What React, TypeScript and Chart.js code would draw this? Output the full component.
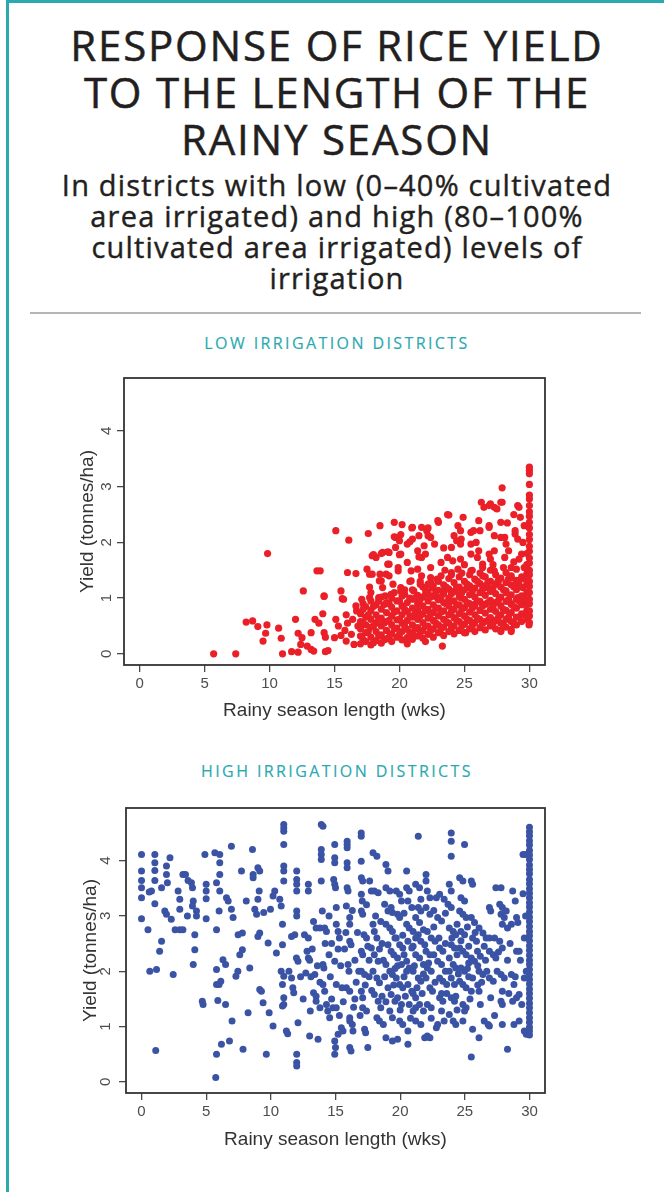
import React, { useEffect, useRef } from "react";
import { Chart, registerables } from "chart.js";

Chart.register(...registerables);

const titleLines = ["RESPONSE OF RICE YIELD", "TO THE LENGTH OF THE", "RAINY SEASON"];
const subtitleLines = [
  "In districts with low (0–40% cultivated",
  "area irrigated) and high (80–100%",
  "cultivated area irrigated) levels of",
  "irrigation",
];
const lowPanelTitle = "LOW IRRIGATION DISTRICTS";
const highPanelTitle = "HIGH IRRIGATION DISTRICTS";
const xAxisTitle = "Rainy season length (wks)";
const yAxisTitle = "Yield (tonnes/ha)";
const xTicks = [0, 5, 10, 15, 20, 25, 30];
const yTicks = [0, 1, 2, 3, 4];

// Low irrigation districts: [weeks, yield]
const lowSparse: number[][] = [
  [5.7, 0.0], [7.4, 0.0], [8.2, 0.57], [8.7, 0.59], [9.1, 0.49], [9.8, 0.52], [9.7, 0.37], [9.5, 0.23],
  [9.85, 1.8], [10.7, 0.46], [10.9, 0.28], [11.0, 0.0], [11.7, 0.04], [12.2, 0.03], [12.0, 0.62],
  [12.2, 0.37], [12.5, 0.29], [12.4, 0.17], [12.9, 0.14], [13.2, 0.08], [13.4, 0.05], [13.2, 0.38],
  [13.5, 0.62], [13.8, 0.55], [14.2, 0.38], [14.3, 0.3], [14.3, 0.04], [14.1, 0.72], [12.6, 1.13],
  [13.65, 1.49], [13.9, 1.49], [14.2, 1.04], [15.1, 0.62], [15.0, 0.29], [15.9, 0.7], [15.9, 0.23],
  [16.5, 0.17], [16.7, 0.77], [16.65, 0.86], [15.5, 0.33], [15.8, 0.42], [15.1, 2.21], [16.1, 2.04],
  [15.5, 1.13], [15.6, 0.99], [16.0, 1.46], [16.65, 1.44], [14.5, 0.06], [15.3, 0.5], [16.0, 0.55],
  [16.3, 0.35], [16.8, 0.5], [16.4, 0.62], [17.2, 0.9], [20.6, 0.18], [22.0, 0.22], [23.3, 0.14],
  [25.1, 0.38], [27.8, 0.4], [28.6, 0.4], [29.97, 0.52],
];
const lowUpper: number[][] = [
  [17.6, 2.16], [18.5, 2.3], [19.6, 2.36], [20.2, 2.32], [21.0, 2.27], [21.7, 2.27], [22.1, 2.21],
  [23.0, 2.36], [23.8, 2.49], [24.5, 2.3], [24.7, 2.21], [25.5, 2.18], [26.3, 2.72], [26.5, 2.63],
  [27.0, 2.69], [27.3, 2.63], [27.9, 2.98], [27.9, 2.72], [29.1, 2.66], [30, 3.35], [30, 3.29],
  [30, 3.23], [30, 3.04], [20.95, 2.26], [19.6, 2.1], [20.1, 2.14], [22.2, 2.26], [22.2, 2.12],
  [21.5, 2.12], [20.8, 2.01], [23.7, 2.5], [22.95, 2.39], [26.9, 2.66], [27.8, 2.72], [27.5, 2.6],
  [29.2, 2.63], [26.1, 2.39], [26.9, 2.3], [27.8, 2.36], [24.2, 2.12], [24.75, 2.06], [24.0, 1.91],
  [25.7, 2.21], [25.5, 1.97], [26.1, 1.85], [26.9, 1.79], [28.1, 2.09], [28.9, 2.15], [29.4, 1.79],
];
const lowMiddle: number[][] = [
  [17.5, 1.52], [17.9, 1.76], [18.2, 1.73], [18.7, 1.82], [19.2, 1.82], [19.7, 2.09], [20.0, 2.03],
  [19.7, 1.91], [20.1, 1.79], [20.6, 1.97], [21.0, 2.06], [21.4, 1.85], [21.7, 1.73], [21.9, 1.94],
  [22.4, 2.09], [22.7, 1.97], [23.2, 1.64], [23.7, 1.73], [24.1, 1.67], [24.7, 1.7], [24.4, 2.03],
  [24.7, 1.97], [25.5, 1.79], [26.0, 1.73], [26.4, 1.61], [26.2, 2.21], [26.9, 2.27], [27.3, 2.12],
  [27.8, 2.09], [28.2, 1.97], [27.3, 1.85], [28.1, 1.73], [28.6, 1.55], [28.9, 2.21], [29.1, 2.06],
  [25.5, 1.49], [26.4, 1.4], [27.3, 1.49], [27.6, 1.31], [28.6, 1.37], [29.1, 1.25], [24.0, 1.46],
  [24.5, 1.52], [20.9, 1.49], [21.7, 1.4], [22.2, 1.25], [19.2, 1.61], [18.97, 1.43], [17.9, 1.43],
  [18.6, 1.31], [22.9, 1.34], [18.0, 1.78], [18.6, 1.8], [19.1, 1.83], [20.0, 1.78], [21.5, 1.74],
  [22.0, 1.79], [19.1, 1.61], [19.9, 1.55], [20.6, 1.64], [17.7, 1.43], [18.5, 1.43], [19.2, 1.4],
  [19.9, 1.49], [21.4, 1.52], [22.4, 1.55], [17.7, 1.2], [18.45, 1.31], [17.7, 1.01], [18.9, 1.04],
  [19.5, 1.25], [20.1, 1.13], [20.9, 1.31], [21.6, 1.25], [22.4, 1.37], [23.5, 1.5], [25.0, 1.6],
  [27.0, 1.7], [28.4, 1.85], [29.5, 2.0], [29.6, 2.3], [29.3, 2.45], [28.8, 2.5], [23.4, 1.9],
  [24.9, 2.45], [25.9, 2.0], [28.3, 2.35], [14.2, 1.03], [15.7, 0.98], [17.1, 0.98], [17.8, 1.1],
  [18.4, 1.01], [18.7, 1.19], [19.35, 1.07], [20.1, 1.19], [20.4, 1.07], [21.1, 1.13], [21.5, 0.95],
  [22.0, 1.07], [22.5, 1.19], [22.9, 1.01], [23.4, 1.13], [23.8, 0.95], [24.3, 1.13], [24.7, 1.01],
  [25.25, 1.19], [25.8, 0.89], [26.3, 1.1], [26.8, 1.19], [27.2, 0.89], [27.7, 1.01], [28.2, 1.13],
  [28.6, 0.89], [29.1, 1.01], [29.5, 1.19], [29.6, 0.89],
];
// dense band, one row per column: [weeks, yield, yield, ...]
const lowDenseColumns: number[][] = [
  [17.0, 0.18, 0.32, 0.45, 0.58, 0.72],
  [17.4, 0.22, 0.38, 0.52, 0.66, 0.85],
  [17.8, 0.16, 0.3, 0.48, 0.62, 0.78, 0.95],
  [18.2, 0.24, 0.4, 0.55, 0.7, 0.88],
  [18.6, 0.19, 0.34, 0.5, 0.64, 0.8, 1.02],
  [19.0, 0.27, 0.42, 0.58, 0.74, 0.92],
  [19.4, 0.22, 0.36, 0.52, 0.68, 0.84, 1.0],
  [19.8, 0.3, 0.46, 0.61, 0.77, 0.95],
  [20.2, 0.25, 0.4, 0.55, 0.7, 0.86, 1.04],
  [20.6, 0.29, 0.44, 0.6, 0.76, 0.92],
  [21.0, 0.26, 0.38, 0.52, 0.66, 0.82, 0.98, 1.15],
  [21.4, 0.32, 0.47, 0.62, 0.78, 0.9, 1.05],
  [21.8, 0.28, 0.42, 0.56, 0.72, 0.86, 1.02, 1.2],
  [22.2, 0.35, 0.5, 0.64, 0.8, 0.95, 1.1],
  [22.6, 0.3, 0.45, 0.6, 0.74, 0.88, 1.04, 1.22],
  [23.0, 0.38, 0.52, 0.68, 0.82, 0.97, 1.14, 1.3],
  [23.4, 0.33, 0.48, 0.62, 0.77, 0.92, 1.08, 1.24],
  [23.8, 0.4, 0.55, 0.7, 0.86, 1.0, 1.16, 1.35],
  [24.2, 0.36, 0.5, 0.65, 0.8, 0.95, 1.12, 1.28],
  [24.6, 0.42, 0.58, 0.72, 0.88, 1.04, 1.2, 1.38],
  [25.0, 0.38, 0.53, 0.68, 0.83, 0.98, 1.15, 1.3],
  [25.4, 0.45, 0.6, 0.75, 0.9, 1.06, 1.22, 1.42],
  [25.8, 0.4, 0.56, 0.7, 0.86, 1.02, 1.18, 1.34],
  [26.2, 0.47, 0.62, 0.78, 0.94, 1.1, 1.26, 1.45],
  [26.6, 0.43, 0.58, 0.73, 0.89, 1.05, 1.22, 1.38],
  [27.0, 0.5, 0.65, 0.8, 0.96, 1.12, 1.3, 1.5],
  [27.4, 0.45, 0.6, 0.76, 0.92, 1.08, 1.25, 1.42],
  [27.8, 0.42, 0.55, 0.7, 0.86, 1.02, 1.2, 1.36],
  [28.2, 0.48, 0.62, 0.78, 0.94, 1.1, 1.28, 1.46],
  [28.6, 0.44, 0.58, 0.74, 0.9, 1.06, 1.24, 1.4],
  [29.0, 0.52, 0.66, 0.82, 0.98, 1.15, 1.32, 1.52],
  [29.4, 0.58, 0.72, 0.88, 1.04, 1.2, 1.38],
  [29.8, 0.62, 0.78, 0.94, 1.1, 1.26, 1.44, 1.6, 1.8],
  [30.0, 0.56, 0.68, 0.77, 0.9, 0.98, 1.1, 1.21, 1.3, 1.42, 1.5, 1.63, 1.72, 1.84, 1.93, 2.05, 2.14, 2.26, 2.36, 2.47, 2.55, 2.66, 2.78, 2.85],
];
const lowDenseInfill: number[][] = [
  [17.2, 0.26, 0.55, 0.8],
  [17.6, 0.4, 0.7],
  [18.0, 0.2, 0.5, 0.85],
  [18.4, 0.32, 0.62, 0.95],
  [18.8, 0.25, 0.55, 0.88],
  [19.2, 0.3, 0.6, 0.9],
  [19.6, 0.45, 0.75, 1.1],
  [20.0, 0.35, 0.62, 0.95],
  [20.4, 0.5, 0.8, 1.15],
  [20.8, 0.36, 0.68, 1.0, 1.3],
  [21.2, 0.45, 0.72, 1.0],
  [21.6, 0.38, 0.68, 0.98, 1.3],
  [22.0, 0.5, 0.78, 1.15],
  [22.4, 0.42, 0.72, 1.02, 1.28],
  [22.8, 0.55, 0.82, 1.12],
  [23.2, 0.45, 0.75, 1.02, 1.4],
  [23.6, 0.58, 0.9, 1.2],
  [24.0, 0.46, 0.76, 1.08, 1.42],
  [24.4, 0.6, 0.88, 1.2],
  [24.8, 0.5, 0.8, 1.1, 1.45],
  [25.2, 0.62, 0.92, 1.25],
  [25.6, 0.5, 0.82, 1.12, 1.5],
  [26.0, 0.64, 0.95, 1.3],
  [26.4, 0.55, 0.86, 1.16, 1.55],
  [26.8, 0.6, 0.92, 1.28],
  [27.2, 0.55, 0.84, 1.18, 1.6],
  [27.6, 0.65, 0.95, 1.3],
  [28.0, 0.52, 0.8, 1.15, 1.55],
  [28.4, 0.66, 0.98, 1.35],
  [28.8, 0.55, 0.85, 1.2, 1.65],
  [29.2, 0.66, 0.95, 1.3, 1.7],
  [29.6, 0.7, 1.0, 1.35, 1.55],
];

// High irrigation districts: [weeks, yield]
const highLeft: number[][] = [
  [0, 4.11], [0, 3.81], [0, 3.64], [0, 3.51], [0, 3.33], [0, 2.95], [0.5, 2.75], [1.03, 4.11], [1.03, 3.96],
  [1.03, 3.82], [1.03, 3.64], [0.77, 3.45], [0.6, 3.43], [1.03, 3.22], [1.55, 3.51], [0.64, 2.0], [1.16, 2.03],
  [1.1, 0.57], [1.55, 2.54], [1.4, 2.36], [1.93, 3.9], [1.93, 3.75], [2.0, 3.6], [2.2, 4.05], [1.8, 3.09],
  [1.93, 3.03], [2.3, 2.94], [2.45, 1.94], [2.6, 2.75], [2.96, 2.75], [3.2, 2.75], [2.83, 3.45], [2.96, 3.3],
  [3.2, 3.75], [3.4, 3.75], [2.96, 3.12], [3.6, 3.64], [3.86, 3.6], [3.55, 3.0], [3.94, 3.51], [4.0, 3.27],
  [3.94, 3.18], [4.12, 2.66], [4.12, 2.39], [4.0, 2.12], [4.25, 3.09], [4.25, 3.0], [4.9, 4.11], [5.0, 3.57],
  [5.0, 3.45], [5.0, 3.31], [5.0, 2.95], [4.76, 1.4], [4.7, 1.46], [5.8, 2.75], [5.67, 4.14], [6.05, 4.11],
  [6.05, 3.96], [6.05, 3.75], [5.8, 3.6], [6.05, 3.45], [6.0, 3.09], [5.8, 1.76], [6.0, 1.76], [6.13, 1.82],
  [5.8, 2.03], [5.9, 1.47], [5.8, 0.5], [5.74, 0.08], [6.18, 0.68], [6.3, 2.21], [6.5, 2.12], [6.5, 1.4],
  [6.57, 3.33], [6.7, 3.27], [6.8, 0.74], [6.95, 4.26], [6.95, 3.12], [7.08, 2.97], [7.0, 1.1], [7.3, 1.91],
  [7.45, 2.0], [7.6, 2.3], [7.8, 2.39], [7.73, 3.81], [7.85, 0.59], [7.47, 2.66], [7.8, 2.69], [8.1, 3.27],
  [8.37, 2.06], [8.24, 1.25], [8.58, 4.2], [8.63, 3.75], [8.63, 3.69], [8.76, 3.12], [8.9, 3.03], [9.0, 3.87],
  [9.14, 3.81], [9.1, 3.45], [9.0, 3.3], [9.0, 2.63], [9.14, 1.67], [9.27, 1.64], [9.14, 2.69], [9.45, 3.06],
  [9.4, 1.43], [9.65, 0.5], [9.79, 2.51], [9.87, 1.25], [9.97, 3.12],
];
const highMiddle: number[][] = [
  [10.17, 1.01], [10.17, 3.36], [10.3, 3.45], [10.43, 2.33], [10.69, 3.3], [10.8, 3.18], [11.0, 4.65],
  [11.0, 4.59], [11.0, 4.53], [11.0, 4.29], [11.0, 3.9], [11.0, 3.81], [11.0, 3.63], [10.9, 2.85], [10.9, 2.48],
  [10.8, 2.0], [11.0, 1.91], [10.9, 1.76], [11.0, 1.52], [11.0, 1.4], [10.9, 1.37], [11.2, 0.92], [11.3, 0.87],
  [11.4, 2.0], [11.6, 1.88], [11.7, 1.7], [11.77, 1.61], [11.6, 2.63], [12.0, 3.81], [12.0, 3.66], [12.0, 3.57],
  [12.0, 3.45], [12.0, 3.09], [12.0, 3.0], [12.1, 2.18], [11.98, 2.24], [11.85, 2.66], [12.1, 1.07], [12.0, 0.5],
  [12.0, 0.35], [12.0, 0.29], [12.6, 2.66], [12.9, 2.6], [12.8, 2.36], [12.9, 2.24], [12.7, 1.97], [12.9, 3.57],
  [12.9, 3.45], [13.0, 0.83], [13.05, 1.28], [13.3, 1.61], [13.5, 1.55], [13.65, 0.77], [13.5, 2.78],
  [13.8, 2.78], [13.9, 4.65], [14.03, 4.62], [13.9, 4.2], [13.9, 4.11], [13.9, 4.02], [13.9, 3.63], [13.98, 3.09],
  [14.16, 2.78], [14.3, 2.72], [14.03, 2.12], [14.1, 2.06], [14.03, 1.76], [14.16, 1.64], [14.3, 1.4],
  [14.4, 1.28], [14.55, 1.16], [14.8, 1.34], [13.8, 1.34], [13.5, 1.46], [13.4, 1.94], [14.94, 4.29],
  [14.94, 4.05], [14.94, 3.96], [14.86, 3.66], [14.94, 3.57], [15.0, 3.51], [15.06, 3.15], [15.06, 2.85],
  [15.2, 2.72], [15.3, 2.6], [14.94, 2.18], [15.06, 1.76], [15.06, 1.34], [14.94, 0.74], [15.0, 0.62],
  [14.94, 0.5], [15.2, 0.86], [15.45, 0.98], [15.58, 0.92], [15.9, 4.35], [15.9, 4.29], [15.9, 4.23],
  [15.9, 3.96], [15.9, 3.87], [15.9, 3.51], [15.97, 3.45], [15.84, 3.18], [16.1, 2.97], [16.1, 2.85],
  [16.1, 2.54], [16.2, 2.48], [15.97, 2.12], [16.04, 2.0], [15.84, 1.7], [16.1, 1.64], [16.1, 1.16], [16.1, 1.1],
  [16.3, 1.04], [16.1, 0.62], [16.2, 0.56], [16.35, 0.92], [16.99, 4.5], [16.99, 4.44], [16.99, 3.99],
  [17.0, 3.69], [17.1, 3.63], [17.0, 3.39], [17.07, 3.27], [17.0, 3.09], [17.1, 3.03], [17.2, 2.66], [17.4, 2.6],
  [17.0, 2.36], [17.1, 2.3], [17.0, 2.0], [17.25, 1.94], [17.0, 1.64], [17.1, 1.52], [17.1, 1.34], [17.4, 1.28],
  [17.25, 0.95], [17.33, 0.89], [17.5, 0.62], [17.9, 4.14], [18.2, 4.08], [17.77, 3.45], [18.0, 3.45],
  [18.3, 3.42], [17.64, 3.63], [17.9, 2.85], [18.0, 2.72], [18.2, 2.6], [17.77, 2.42], [18.0, 2.3], [18.3, 2.18],
  [17.9, 2.0], [18.2, 1.88], [18.4, 1.79], [18.0, 1.58], [18.3, 1.46], [18.5, 1.34], [18.2, 1.16], [18.4, 1.1],
  [18.7, 1.04], [18.9, 3.93], [19.06, 3.81], [18.9, 3.51], [19.2, 3.45], [18.8, 3.21], [19.06, 3.09],
  [18.9, 2.85], [19.2, 2.78], [19.4, 2.72], [19.06, 2.48], [19.3, 2.36], [18.9, 2.12], [19.2, 2.0], [19.4, 1.94],
  [19.06, 1.7], [19.3, 1.58], [19.6, 1.46], [19.2, 1.28], [19.4, 1.16], [18.9, 0.8], [19.4, 0.74], [19.8, 0.77],
  [19.7, 3.45], [19.96, 3.39], [20.1, 3.27], [19.8, 3.03], [19.96, 2.97], [19.4, 3.06], [19.7, 2.6],
  [19.96, 2.48], [20.2, 2.42], [19.8, 2.24], [20.1, 2.12], [19.7, 1.88], [19.96, 1.76], [20.2, 1.7], [19.8, 1.52],
  [20.1, 1.4], [19.96, 1.1], [20.2, 1.04],
];
const highRight: number[][] = [
  [20.5, 3.81], [20.5, 3.51], [20.7, 3.45], [20.6, 3.27], [20.9, 3.15], [20.5, 2.85], [20.7, 2.78], [21.0, 2.72],
  [20.6, 2.54], [20.9, 2.42], [20.5, 2.18], [20.7, 2.06], [21.0, 2.0], [20.6, 1.76], [20.9, 1.64], [20.7, 1.4],
  [21.0, 1.28], [21.2, 1.34], [20.6, 0.92], [20.6, 0.68], [21.4, 4.44], [21.2, 3.57], [21.5, 3.51], [21.4, 3.15],
  [21.6, 3.09], [21.2, 2.97], [21.5, 2.88], [21.4, 2.66], [21.6, 2.54], [21.9, 2.48], [21.2, 2.3], [21.5, 2.24],
  [21.8, 2.12], [21.4, 1.88], [21.6, 1.82], [21.2, 1.52], [21.5, 1.4], [21.8, 1.28], [21.2, 1.1], [21.6, 1.04],
  [22.0, 3.75], [22.0, 3.63], [22.1, 3.45], [22.3, 3.33], [22.0, 3.15], [22.3, 3.03], [22.1, 2.72], [22.4, 2.6],
  [22.7, 2.54], [22.0, 2.36], [22.3, 2.3], [22.1, 2.06], [22.4, 2.0], [22.0, 1.88], [22.3, 1.7], [22.5, 1.64],
  [22.1, 1.4], [22.4, 1.34], [21.9, 0.8], [22.1, 0.83], [22.3, 0.8], [22.8, 0.98], [22.9, 1.04], [22.8, 3.33],
  [23.05, 3.39], [22.9, 2.97], [23.2, 2.91], [23.05, 2.42], [23.3, 2.36], [22.9, 2.18], [23.2, 2.12],
  [23.05, 1.88], [23.3, 1.82], [23.6, 1.76], [23.05, 1.52], [23.3, 1.46], [23.2, 1.28], [23.4, 1.1],
  [23.95, 4.5], [23.95, 4.35], [23.95, 4.08], [23.8, 3.57], [23.95, 3.45], [23.7, 3.21], [23.95, 3.15],
  [23.8, 2.78], [24.1, 2.72], [24.3, 2.66], [23.95, 2.48], [24.2, 2.42], [23.8, 2.24], [24.1, 2.12], [24.3, 2.06],
  [23.95, 1.88], [24.2, 1.76], [23.95, 1.52], [24.2, 1.46], [23.8, 1.22], [24.1, 1.1], [24.3, 1.04], [24.6, 3.69],
  [24.85, 3.63], [24.98, 4.29], [24.7, 3.33], [24.98, 3.27], [24.6, 3.09], [24.85, 3.03], [25.1, 2.97],
  [24.7, 2.72], [24.98, 2.66], [24.6, 2.42], [24.85, 2.36], [25.1, 2.3], [24.7, 2.06], [24.98, 2.0], [24.6, 1.82],
  [24.85, 1.76], [25.1, 1.7], [24.85, 1.4], [25.1, 1.34], [24.98, 1.28], [24.85, 1.1], [25.5, 3.63], [25.6, 3.57],
  [25.5, 2.97], [25.75, 2.88], [25.6, 2.6], [25.9, 2.54], [25.5, 2.24], [25.75, 2.18], [25.5, 1.64], [25.6, 1.88],
  [25.6, 0.95], [25.5, 0.45], [26.1, 2.78], [26.4, 2.69], [26.65, 2.6], [25.98, 2.36], [26.2, 2.27], [26.1, 2.0],
  [26.4, 1.94], [26.1, 1.64], [26.2, 1.4], [26.1, 0.8], [26.5, 1.1], [26.8, 1.04], [26.9, 1.01], [26.9, 3.15],
  [27.0, 3.09], [26.9, 2.36], [27.2, 2.3], [27.4, 2.24], [26.9, 1.88], [27.2, 1.82], [27.0, 1.52], [27.4, 3.51],
  [27.8, 3.51], [27.7, 3.21], [27.9, 3.15], [28.2, 3.09], [27.8, 3.03], [28.05, 2.97], [27.7, 2.54], [27.9, 2.42],
  [27.8, 1.94], [28.05, 1.88], [27.9, 1.64], [27.8, 1.46], [27.9, 1.4], [27.9, 1.04], [28.3, 0.59], [28.3, 2.78],
  [28.6, 2.85], [28.6, 1.94], [28.8, 1.76], [28.7, 3.45], [28.9, 3.27], [29.0, 2.97], [29.1, 2.88], [29.0, 2.36],
  [29.2, 2.36], [28.7, 1.46], [29.0, 1.52], [29.2, 1.58], [28.8, 1.04], [29.2, 1.1], [29.5, 4.11], [29.7, 4.11],
  [29.6, 1.88], [29.75, 2.0], [29.6, 0.92], [29.75, 0.86],
];
const highFill: number[][] = [
  [13.0, 2.2], [13.2, 2.4], [13.6, 2.1], [13.8, 1.8], [14.5, 2.3], [14.6, 1.9], [14.7, 2.5], [15.4, 2.1],
  [15.5, 1.7], [15.7, 2.4], [15.6, 1.45], [16.5, 2.2], [16.6, 1.8], [16.7, 2.7], [16.5, 1.5], [17.6, 2.2],
  [17.6, 1.9], [17.8, 1.65], [18.6, 2.5], [18.7, 2.2], [18.6, 1.55], [18.5, 2.9], [19.5, 2.3], [19.6, 2.05],
  [19.5, 1.75], [20.3, 2.3], [20.3, 1.9], [20.4, 1.55], [20.2, 2.65], [21.0, 2.45], [21.0, 1.6], [21.1, 2.1],
  [21.8, 1.95], [21.7, 1.6], [21.8, 2.75], [22.6, 2.3], [22.7, 1.8], [22.6, 2.8], [23.5, 2.5], [23.5, 2.0],
  [23.6, 1.6], [23.5, 3.05], [24.4, 2.3], [24.5, 1.95], [24.4, 2.85], [24.3, 1.55], [25.3, 2.15], [25.3, 2.45],
  [25.3, 1.9], [25.2, 2.8], [26.0, 2.1], [26.0, 1.75], [26.5, 2.45], [26.7, 2.0], [27.3, 2.6], [27.5, 2.0],
  [28.3, 2.2], [28.4, 1.6], [15.3, 1.2], [15.8, 2.7], [16.3, 3.1], [16.8, 2.0], [16.9, 1.2], [17.4, 3.2],
  [17.5, 2.45], [17.3, 1.75], [18.1, 3.0], [18.4, 2.4], [18.8, 1.9], [18.9, 1.45], [19.3, 3.15], [19.6, 2.6],
  [19.8, 2.1], [20.0, 1.3], [20.3, 3.05], [20.5, 2.0], [20.8, 1.15], [21.2, 2.6], [21.3, 1.7], [21.6, 3.3],
  [22.2, 2.15], [22.4, 1.15], [22.6, 3.1], [23.0, 2.6], [23.2, 1.6], [23.4, 3.3], [23.8, 2.0], [24.0, 2.6],
  [24.4, 1.3], [24.7, 2.55], [25.2, 2.05], [25.4, 1.5], [25.8, 2.7], [26.3, 1.8], [26.6, 2.2], [26.9, 2.6],
  [27.3, 1.2], [27.6, 2.35], [27.9, 2.85], [28.5, 2.5], [28.9, 1.9], [29.3, 2.2], [29.4, 1.4], [29.6, 2.6],
  [29.7, 3.0], [29.5, 3.4], [12.3, 1.9], [12.5, 1.5], [13.1, 1.9], [13.3, 2.9], [14.2, 2.5], [14.5, 3.0],
  [14.7, 1.5], [15.2, 2.4], [16.4, 1.35],
];
const highColumn30: number[] = [
  4.6, 4.52, 4.45, 4.36, 4.28, 4.18, 4.1, 4.02, 3.92, 3.84, 3.76, 3.66, 3.58, 3.49, 3.41, 3.33, 3.24, 3.16,
  3.07, 2.98, 2.9, 2.81, 2.72, 2.64, 2.55, 2.46, 2.38, 2.29, 2.2, 2.12, 2.03, 1.94, 1.85, 1.77, 1.68, 1.6,
  1.51, 1.42, 1.34, 1.25, 1.16, 1.08, 0.99, 0.92, 0.85,
];

const TEAL = "#2aa9b1";
const HEAD_FONT = "'Open Sans', sans-serif";
const PLOT_FONT = "'Liberation Sans', Arial, sans-serif";

function toXY(pairs: number[][]) {
  return pairs.map((p) => ({ x: p[0], y: p[1] }));
}
function columnsToXY(cols: number[][]) {
  const out: { x: number; y: number }[] = [];
  cols.forEach((c) => c.slice(1).forEach((y) => out.push({ x: c[0], y })));
  return out;
}

const lowData = [
  ...toXY(lowSparse),
  ...toXY(lowUpper),
  ...toXY(lowMiddle),
  ...columnsToXY(lowDenseColumns),
  ...columnsToXY(lowDenseInfill),
];
const highData = [
  ...toXY(highLeft),
  ...toXY(highMiddle),
  ...toXY(highRight),
  ...toXY(highFill),
  ...highColumn30.map((y) => ({ x: 30, y })),
];

const boxPlugin = {
  id: "rbox",
  afterDatasetsDraw(chart: any) {
    const { ctx, chartArea: a } = chart;
    ctx.save();
    ctx.strokeStyle = "#333333";
    ctx.lineWidth = 1.8;
    ctx.strokeRect(a.left, a.top, a.right - a.left, a.bottom - a.top);
    ctx.restore();
  },
};

type PanelProps = {
  data: { x: number; y: number }[];
  color: string;
  radius: number;
  top: number;
  height: number;
  boxLeft: number;
  boxRight: number;
  boxTop: number;
  boxBottom: number;
  yLabelPad: number;
  yTitlePad: number;
  xLabelPad: number;
  xTitlePad: number;
};

function Panel(p: PanelProps) {
  const ref = useRef<HTMLCanvasElement | null>(null);
  useEffect(() => {
    if (!ref.current) return;
    const yWidth = 56;
    const xHeight = p.top + p.height - p.boxBottom;
    const gridOpts = {
      display: true,
      drawOnChartArea: false,
      drawTicks: true,
      tickLength: 7,
      color: "#4a4a4a",
      lineWidth: 1.3,
    };
    const chart = new Chart(ref.current, {
      type: "scatter",
      data: {
        datasets: [
          {
            data: p.data,
            backgroundColor: p.color,
            borderWidth: 0,
            pointRadius: p.radius,
            pointHoverRadius: p.radius,
          },
        ],
      },
      plugins: [boxPlugin],
      options: {
        animation: false,
        responsive: false,
        devicePixelRatio: 1,
        events: [],
        layout: {
          padding: {
            left: p.boxLeft - yWidth,
            right: 664 - p.boxRight,
            top: p.boxTop - p.top,
            bottom: 0,
          },
        },
        plugins: { legend: { display: false }, tooltip: { enabled: false }, title: { display: false } },
        scales: {
          x: {
            type: "linear",
            min: -1.2,
            max: 31.2,
            afterBuildTicks: (s: any) => {
              s.ticks = xTicks.map((v) => ({ value: v }));
            },
            afterFit: (s: any) => {
              s.height = xHeight;
            },
            grid: gridOpts,
            border: { display: false },
            ticks: {
              padding: p.xLabelPad,
              color: "#4d4d4d",
              autoSkip: false,
              maxRotation: 0,
              font: { family: PLOT_FONT, size: 15 },
            },
            title: {
              display: true,
              text: xAxisTitle,
              color: "#333333",
              font: { family: PLOT_FONT, size: 19 },
              padding: { top: 0, bottom: p.xTitlePad },
            },
          },
          y: {
            type: "linear",
            min: -0.2,
            max: 4.95,
            afterBuildTicks: (s: any) => {
              s.ticks = yTicks.map((v) => ({ value: v }));
            },
            afterFit: (s: any) => {
              s.width = yWidth;
            },
            grid: gridOpts,
            border: { display: false },
            ticks: {
              padding: p.yLabelPad,
              color: "#4d4d4d",
              minRotation: 90,
              maxRotation: 90,
              crossAlign: "center",
              font: { family: PLOT_FONT, size: 15 },
            },
            title: {
              display: true,
              text: yAxisTitle,
              color: "#333333",
              font: { family: PLOT_FONT, size: 19 },
              padding: { top: p.yTitlePad, bottom: 0 },
            },
          },
        },
      } as any,
    });
    return () => chart.destroy();
  }, []);
  return (
    <canvas
      ref={ref}
      width={664}
      height={p.height}
      style={{ position: "absolute", left: 0, top: p.top, width: 664, height: p.height }}
    />
  );
}

const panelTitleStyle: React.CSSProperties = {
  position: "absolute",
  left: 10,
  width: 654,
  textAlign: "center",
  fontFamily: HEAD_FONT,
  fontSize: 16,
  fontWeight: 500,
  lineHeight: "20px",
  letterSpacing: 2.4,
  color: TEAL,
  WebkitTextStroke: "0.15px " + TEAL,
};

export default function App() {
  return (
    <div
      style={{
        position: "absolute",
        left: 0,
        top: 0,
        width: 664,
        height: 1192,
        background: "#ffffff",
        overflow: "hidden",
      }}
    >
      <div style={{ position: "absolute", left: 6, top: 0, width: 658, height: 3, background: TEAL }} />
      <div style={{ position: "absolute", left: 6, top: 0, width: 3, height: 1192, background: TEAL }} />
      <div
        style={{
          position: "absolute",
          left: 10,
          width: 654,
          top: 21,
          textAlign: "center",
          fontFamily: HEAD_FONT,
          fontSize: 42,
          fontWeight: 500,
          letterSpacing: 1.8,
          lineHeight: "47px",
          color: "#231f20",
          WebkitTextStroke: "0.5px #231f20",
        }}
      >
        {titleLines.map((t, i) => (
          <div key={i}>{t}</div>
        ))}
      </div>
      <div
        style={{
          position: "absolute",
          left: 10,
          width: 654,
          top: 169,
          textAlign: "center",
          fontFamily: HEAD_FONT,
          fontSize: 29,
          fontWeight: 500,
          letterSpacing: 1.2,
          lineHeight: "31px",
          color: "#231f20",
          WebkitTextStroke: "0.4px #231f20",
        }}
      >
        {subtitleLines.map((t, i) => (
          <div key={i}>{t}</div>
        ))}
      </div>
      <div style={{ position: "absolute", left: 30, top: 312, width: 611, height: 2, background: "#b5b5b5" }} />
      <div style={{ ...panelTitleStyle, top: 333 }}>{lowPanelTitle}</div>
      <Panel
        data={lowData}
        color="#ea1f27"
        radius={3.6}
        top={360}
        height={370}
        boxLeft={124}
        boxRight={545}
        boxTop={378}
        boxBottom={665}
        yLabelPad={6}
        yTitlePad={8}
        xLabelPad={3}
        xTitlePad={8}
      />
      <div style={{ ...panelTitleStyle, top: 761 }}>{highPanelTitle}</div>
      <Panel
        data={highData}
        color="#3a53a5"
        radius={3.5}
        top={790}
        height={370}
        boxLeft={126}
        boxRight={545}
        boxTop={805}
        boxBottom={1093}
        yLabelPad={9}
        yTitlePad={9}
        xLabelPad={3}
        xTitlePad={9}
      />
    </div>
  );
}
